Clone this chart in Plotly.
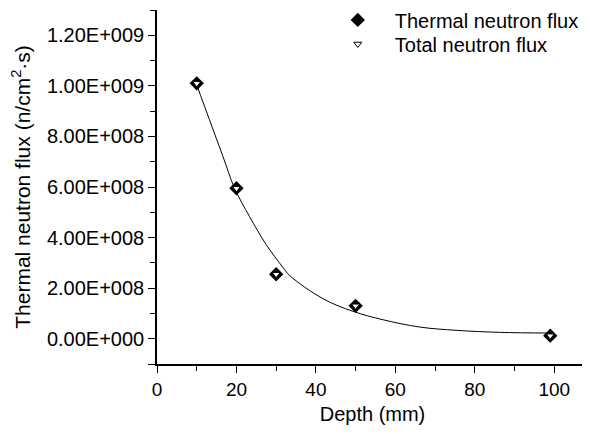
import plotly.graph_objects as go

# Measured data points
depth = [10, 20, 30, 50, 99]
thermal_flux = [1.01e9, 5.95e8, 2.55e8, 1.30e8, 1.2e7]
total_flux = [1.01e9, 5.95e8, 2.55e8, 1.30e8, 1.2e7]

# Fitted curve
fit_x = [10, 13.2, 16.6, 19.5, 23.3, 27.5, 31.7, 33.4, 41.8, 49.4, 56.9, 66.2, 75.5, 86.5, 98.7]
fit_y = [1.004e9, 8.66e8, 7.21e8, 5.96e8, 4.83e8, 3.72e8, 2.82e8, 2.50e8, 1.58e8,
         1.08e8, 7.5e7, 4.6e7, 3.3e7, 2.5e7, 2.25e7]

y_tickvals = [-1e8, 0, 2e8, 4e8, 6e8, 8e8, 1.0e9, 1.2e9]
y_ticktext = ["", "0.00E+000", "2.00E+008", "4.00E+008", "6.00E+008", "8.00E+008", "1.00E+009", "1.20E+009"]
x_tickvals = [0, 20, 40, 60, 80, 100]

FONT = "Liberation Sans, Arial, sans-serif"

fig = go.Figure()
fig.add_trace(go.Scatter(x=fit_x, y=fit_y, mode="lines",
                         line=dict(color="black", width=1, shape="spline", smoothing=1.0),
                         showlegend=False, hoverinfo="skip"))
fig.add_trace(go.Scatter(x=depth, y=thermal_flux, mode="markers", name="Thermal neutron flux",
                         legend="legend",
                         marker=dict(symbol="diamond", size=11, color="black")))
fig.add_trace(go.Scatter(x=depth, y=total_flux, mode="markers", name="Total neutron flux",
                         legend="legend2",
                         marker=dict(symbol="triangle-down", size=7, color="white",
                                     line=dict(color="black", width=1))))

leg_common = dict(xanchor="left", yanchor="middle", bgcolor="rgba(0,0,0,0)",
                  font=dict(size=20), itemwidth=64, borderwidth=0)

fig.update_layout(
    width=582, height=426,
    margin=dict(l=149, r=2, t=2, b=70, autoexpand=False),
    paper_bgcolor="white", plot_bgcolor="white",
    font=dict(family=FONT, color="black", size=19),
    legend=dict(x=0.38, y=0.972, **leg_common),
    legend2=dict(x=0.38, y=0.904, **leg_common),
    xaxis=dict(range=[0, 108.5], showline=True, linecolor="black", linewidth=1.5, showgrid=False, zeroline=False,
               tickvals=x_tickvals, ticks="outside", ticklen=7, tickwidth=1.2, tickcolor="black",
               minor=dict(dtick=10, tick0=0, ticks="outside", ticklen=5, tickcolor="black", tickwidth=1.2),
               title=dict(text="Depth (mm)", font=dict(size=20), standoff=8)),
    yaxis=dict(range=[-1e8, 1.3e9], showline=True, linecolor="black", linewidth=1.5, showgrid=False, zeroline=False,
               tickvals=y_tickvals, ticktext=y_ticktext, ticks="outside", ticklen=7, tickwidth=1.2, tickcolor="black",
               tickfont=dict(size=20),
               minor=dict(dtick=1e8, tick0=0, ticks="outside", ticklen=5, tickcolor="black", tickwidth=1.2),
               title=dict(text="Thermal neutron flux (n/cm<sup>2</sup>·s)", font=dict(size=21), standoff=19)),
)

fig.write_html("out.html")
